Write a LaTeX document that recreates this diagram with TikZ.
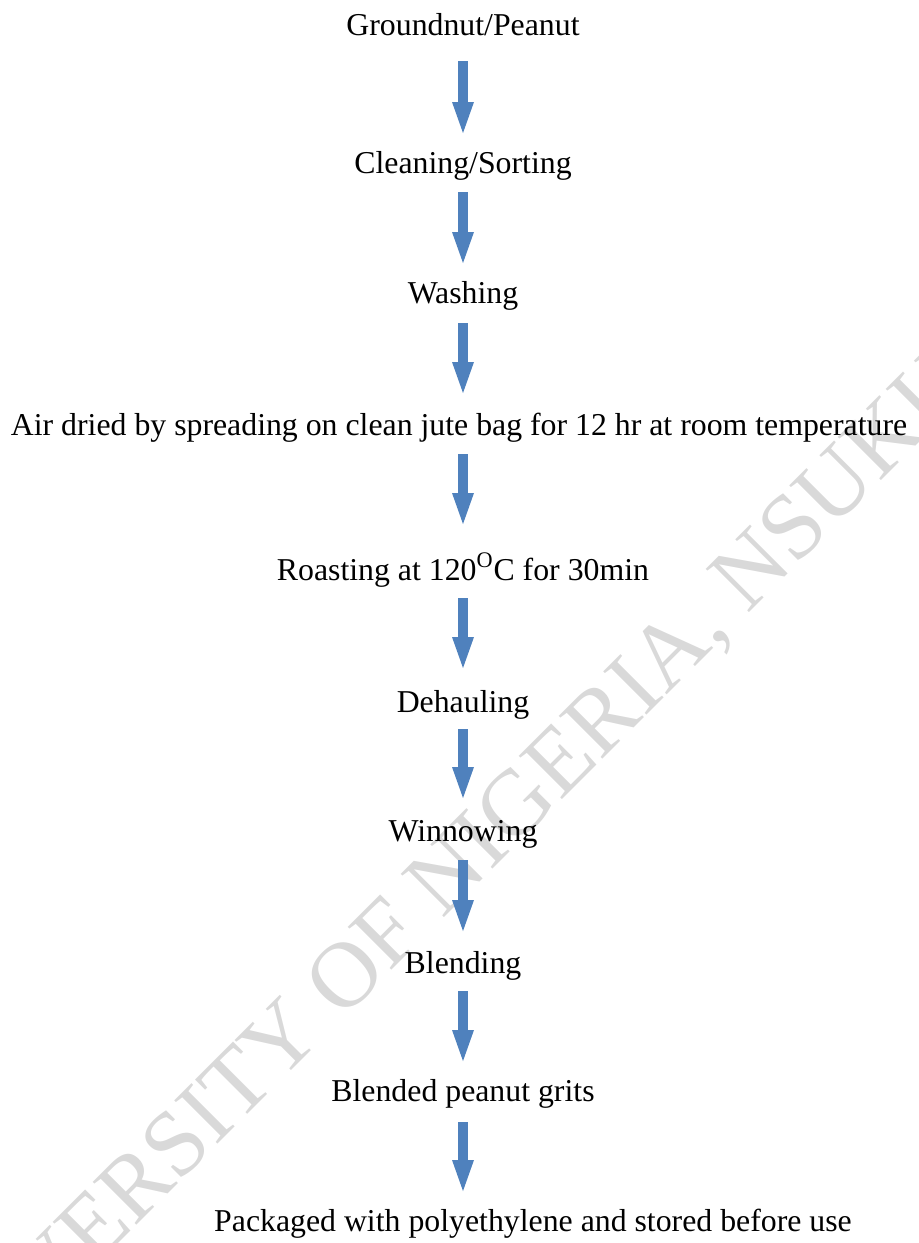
\documentclass[tikz,border=0pt]{standalone}
\usepackage{fontspec}
\setmainfont{Liberation Serif}
\usetikzlibrary{arrows.meta,calc}
\definecolor{arrowblue}{RGB}{79,129,189}
\definecolor{wmgray}{RGB}{217,217,217}
\begin{document}
\begin{tikzpicture}[x=0.5pt,y=-0.5pt,
  stage/.style={anchor=base,inner sep=0pt,font=\fontsize{15.9pt}{19pt}\selectfont},
  flow/.style={draw=arrowblue,line width=5pt,-{Triangle[width=11pt,length=15.5pt,line width=0pt]}},
  wm/.style={anchor=base,inner sep=0pt,text=wmgray,rotate=45,font=\fontsize{46.7pt}{50pt}\selectfont}]
\useasboundingbox (0,0) rectangle (919,1243);
\begin{scope}
  \clip (0,0) rectangle (919,1243);
  \node[wm] (mark) at (476,886) {UNIVERSITY OF NIGERIA, NSUKKA};
\end{scope}
\node[stage] (n1) at (463,35) {Groundnut/Peanut};
\node[stage] (n2) at (463,173) {Cleaning/Sorting};
\node[stage] (n3) at (463,303) {Washing};
\node[stage] (n4) at (459,435) {Air dried by spreading on clean jute bag for 12 hr at room temperature};
\node[stage] (n5) at (463,580) {Roasting at 120\textsuperscript{O}C for 30min};
\node[stage] (n6) at (463,712) {Dehauling};
\node[stage] (n7) at (463,841) {Winnowing};
\node[stage] (n8) at (463,973) {Blending};
\node[stage] (n9) at (463,1101) {Blended peanut grits};
\node[stage] (n10) at (533,1231) {Packaged with polyethylene and stored before use};
\draw[flow] ($(n1.base)+(0,26)$) -- ($(n2.base -| n1.base)+(0,-40)$);
\draw[flow] ($(n2.base -| n1.base)+(0,19)$) -- ($(n3.base -| n1.base)+(0,-40)$);
\draw[flow] ($(n3.base -| n1.base)+(0,20)$) -- ($(n4.base -| n1.base)+(0,-42)$);
\draw[flow] ($(n4.base -| n1.base)+(0,19)$) -- ($(n5.base -| n1.base)+(0,-56)$);
\draw[flow] ($(n5.base -| n1.base)+(0,18)$) -- ($(n6.base -| n1.base)+(0,-44)$);
\draw[flow] ($(n6.base -| n1.base)+(0,17)$) -- ($(n7.base -| n1.base)+(0,-43)$);
\draw[flow] ($(n7.base -| n1.base)+(0,19)$) -- ($(n8.base -| n1.base)+(0,-42)$);
\draw[flow] ($(n8.base -| n1.base)+(0,18)$) -- ($(n9.base -| n1.base)+(0,-40)$);
\draw[flow] ($(n9.base -| n1.base)+(0,21)$) -- ($(n10.base -| n1.base)+(0,-40)$);
\end{tikzpicture}
\end{document}
